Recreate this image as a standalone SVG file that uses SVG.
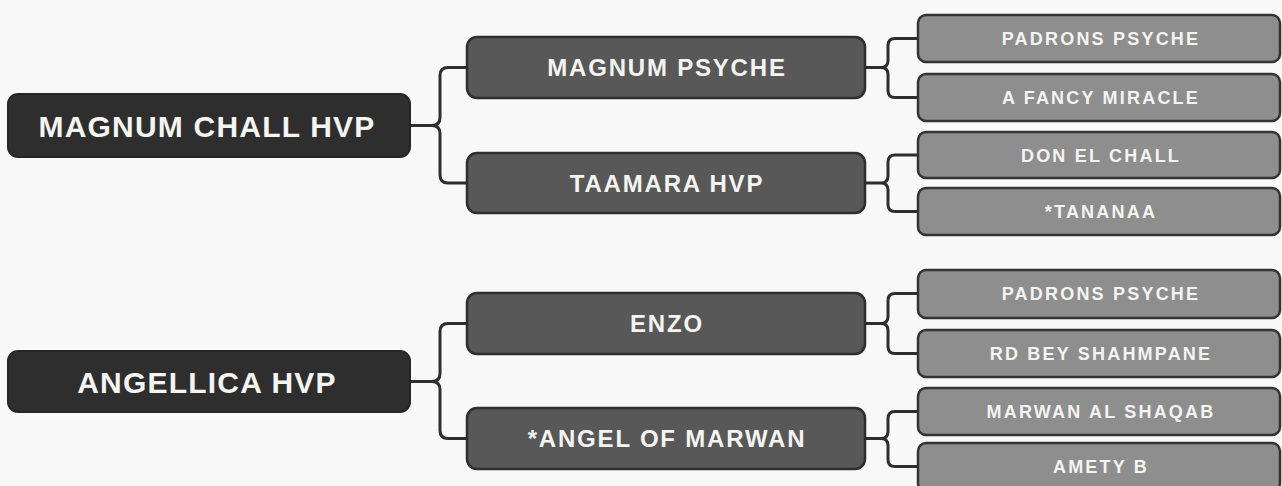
<svg xmlns="http://www.w3.org/2000/svg" width="1282" height="486" viewBox="0 0 1282 486">
<style>
.bg{fill:#f8f8f8}
.root rect{fill:#2e2e2e;stroke:#262626;stroke-width:2}
.mid rect{fill:#585858;stroke:#2e2e2e;stroke-width:2.5}
.leaf rect{fill:#8e8e8e;stroke:#333;stroke-width:2.5}
text{font-family:"Liberation Sans",Arial,sans-serif;font-weight:bold;fill:#f4f4f0;text-anchor:middle}
.root text{font-size:30px;letter-spacing:1.2px}
.mid text{font-size:24px;letter-spacing:1.8px}
.leaf text{font-size:18px;letter-spacing:2.2px}
#connectors path{fill:none;stroke:#2e2e2e;stroke-width:3;stroke-linejoin:round}
</style>
<rect class="bg" x="0" y="0" width="1282" height="486"/>
<g id="connectors">
<path d="M410,125.5 H432 Q440,125.5 440,117.5 V75.5 Q440,67.5 448,67.5 H467 M440,133.5 V175 Q440,183 448,183 H467 M432,125.5 Q440,125.5 440,133.5"/>
<path d="M410,381.5 H432 Q440,381.5 440,373.5 V331.5 Q440,323.5 448,323.5 H467 M440,389.5 V430.5 Q440,438.5 448,438.5 H467 M432,381.5 Q440,381.5 440,389.5"/>
<path d="M865,67.5 H881 Q888,67.5 888,60.5 V45.5 Q888,38.5 895,38.5 H918 M888,74.5 V90.5 Q888,97.5 895,97.5 H918 M881,67.5 Q888,67.5 888,74.5"/>
<path d="M865,183 H881 Q888,183 888,176 V162 Q888,155 895,155 H918 M888,190 V204.5 Q888,211.5 895,211.5 H918 M881,183 Q888,183 888,190"/>
<path d="M865,323.5 H881 Q888,323.5 888,316.5 V300.5 Q888,293.5 895,293.5 H918 M888,330.5 V346.5 Q888,353.5 895,353.5 H918 M881,323.5 Q888,323.5 888,330.5"/>
<path d="M865,438.5 H881 Q888,438.5 888,431.5 V418.5 Q888,411.5 895,411.5 H918 M888,445.5 V459.5 Q888,466.5 895,466.5 H918 M881,438.5 Q888,438.5 888,445.5"/>
</g>
<g id="root-magnum-chall-hvp" class="root"><rect x="8" y="94" width="402" height="63" rx="10"/><text x="207" y="136.5">MAGNUM CHALL HVP</text></g>
<g id="root-angellica-hvp" class="root"><rect x="8" y="351" width="402" height="61" rx="10"/><text x="207" y="392.5">ANGELLICA HVP</text></g>
<g id="mid-magnum-psyche" class="mid"><rect x="467" y="37" width="398" height="61" rx="10"/><text x="667" y="76">MAGNUM PSYCHE</text></g>
<g id="mid-taamara-hvp" class="mid"><rect x="467" y="153" width="398" height="60" rx="10"/><text x="667" y="191.5">TAAMARA HVP</text></g>
<g id="mid-enzo" class="mid"><rect x="467" y="293" width="398" height="61" rx="10"/><text x="667" y="331.5">ENZO</text></g>
<g id="mid-angel-of-marwan" class="mid"><rect x="467" y="408" width="398" height="61" rx="10"/><text x="667" y="446.5">*ANGEL OF MARWAN</text></g>
<g id="leaf-padrons-psyche-1" class="leaf"><rect x="918" y="15" width="362" height="47" rx="8"/><text x="1101" y="44.5">PADRONS PSYCHE</text></g>
<g id="leaf-a-fancy-miracle" class="leaf"><rect x="918" y="74" width="362" height="47" rx="8"/><text x="1101" y="103.5">A FANCY MIRACLE</text></g>
<g id="leaf-don-el-chall" class="leaf"><rect x="918" y="132" width="362" height="46" rx="8"/><text x="1101" y="161.5">DON EL CHALL</text></g>
<g id="leaf-tananaa" class="leaf"><rect x="918" y="188" width="362" height="47" rx="8"/><text x="1101" y="217.5">*TANANAA</text></g>
<g id="leaf-padrons-psyche-2" class="leaf"><rect x="918" y="270" width="362" height="48" rx="8"/><text x="1101" y="299.5">PADRONS PSYCHE</text></g>
<g id="leaf-rd-bey-shahmpane" class="leaf"><rect x="918" y="330" width="362" height="47" rx="8"/><text x="1101" y="359.5">RD BEY SHAHMPANE</text></g>
<g id="leaf-marwan-al-shaqab" class="leaf"><rect x="918" y="388" width="362" height="47" rx="8"/><text x="1101" y="417.5">MARWAN AL SHAQAB</text></g>
<g id="leaf-amety-b" class="leaf"><rect x="918" y="443" width="362" height="48" rx="8"/><text x="1101" y="472.5">AMETY B</text></g>
</svg>
